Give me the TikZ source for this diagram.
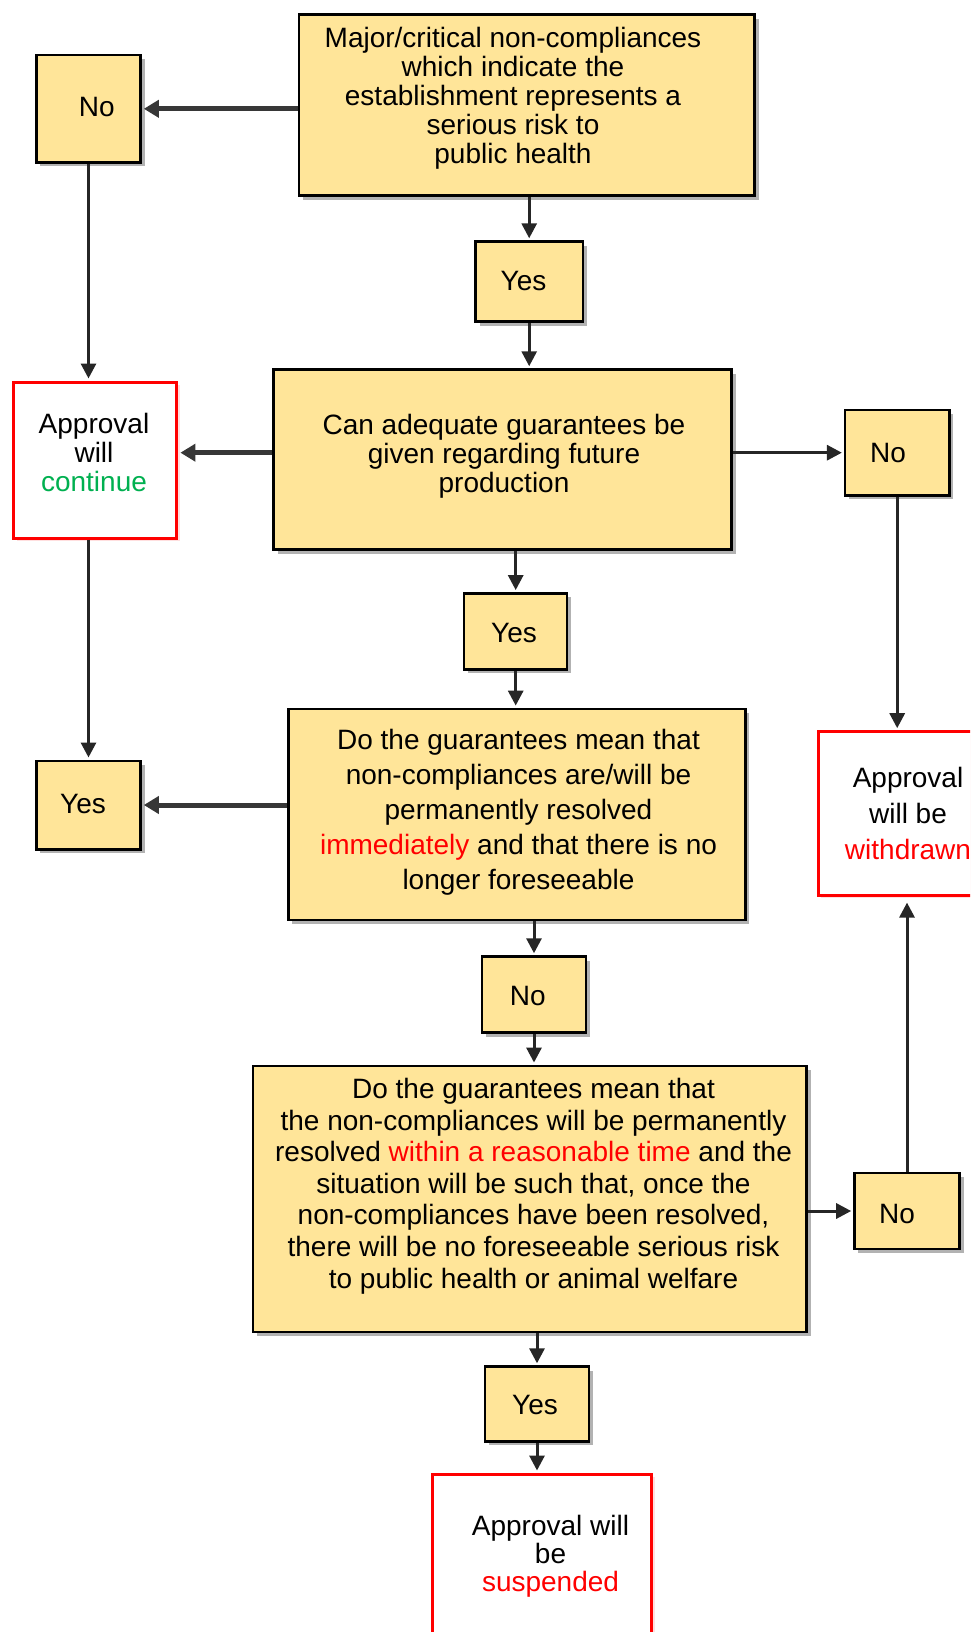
\documentclass[tikz,border=0pt]{standalone}
\usepackage{fontspec}
\setmainfont{Liberation Sans}
\usetikzlibrary{arrows.meta,shadows}
\definecolor{boxfill}{RGB}{255,229,153}
\definecolor{okgreen}{RGB}{0,176,80}
\definecolor{linegray}{RGB}{55,55,55}
\begin{document}
\begin{tikzpicture}[x=1pt,y=-1pt,
  ybox/.style={draw=black, line width=2.5pt, fill=boxfill, inner sep=0pt,
    drop shadow={shadow xshift=4pt,shadow yshift=-4pt,opacity=.3,fill=black}},
  rbox/.style={draw=red, line width=3pt, fill=white, inner sep=0pt,
    drop shadow={shadow xshift=3pt,shadow yshift=-3pt,opacity=.25,fill=red!50}},
  txt/.style={align=center, inner sep=0pt, font=\fontsize{28}{29}\selectfont},
  conn/.style={draw=black!85, line width=3pt, -{Triangle[length=15pt,width=15pt]}, shorten >=2pt},
  heavy/.style={draw=linegray, line width=5pt, -{Triangle[length=15pt,width=17pt]}, shorten >=2pt}]
\useasboundingbox (0,0) rectangle (970,1632);
\clip (0,0) rectangle (970,1632);
% boxes
\node[ybox, minimum width=455.9pt, minimum height=181.1pt] (top) at (526.7,105.2) {};
\node[ybox, minimum width=104.1pt, minimum height=107.2pt] (noTL) at (88.5,108.8) {};
\node[ybox, minimum width=107.2pt, minimum height=80.1pt] (yes1) at (529.2,281.6) {};
\node[ybox, minimum width=458pt, minimum height=180pt] (can) at (502.7,459.5) {};
\node[rbox, minimum width=163.4pt, minimum height=156pt] (cont) at (95.2,460) {};
\node[ybox, minimum width=104.1pt, minimum height=85.4pt] (noR) at (897.2,452.7) {};
\node[ybox, minimum width=103pt, minimum height=75.9pt] (yes2) at (515.7,631.3) {};
\node[ybox, minimum width=456.9pt, minimum height=211.3pt] (do) at (516.8,814.5) {};
\node[ybox, minimum width=104.1pt, minimum height=88.5pt] (yesL) at (88.5,805) {};
\node[rbox, minimum width=182pt, minimum height=163.4pt] (wd) at (909,813.4) {};
\node[ybox, minimum width=104.1pt, minimum height=76pt] (no3) at (534,994.5) {};
\node[ybox, minimum width=553.7pt, minimum height=266.4pt] (big) at (529.8,1199) {};
\node[ybox, minimum width=105.1pt, minimum height=76pt] (noRB) at (907,1211) {};
\node[ybox, minimum width=104.1pt, minimum height=74.9pt] (yesB) at (537,1404) {};
\node[rbox, minimum width=219.5pt, minimum height=206pt] (susp) at (541.8,1577) {};
% texts
\node[txt] (t1) at (513,98) {Major/critical non-compliances\\which indicate the\\establishment represents a\\serious risk to\\public health};
\node[txt] (tnoTL) at (96.8,107.2) {No};
\node[txt] (tyes1) at (523.5,281) {Yes};
\node[txt] (tcan) at (504,456.5) {Can adequate guarantees be\\given regarding future\\production};
\node[txt] (tcont) at (94,452.5) {Approval\\will\\\textcolor{okgreen}{continue}};
\node[txt] (tnoR) at (888,453) {No};
\node[txt] (tyes2) at (514,633) {Yes};
\node[txt, font=\fontsize{28}{35}\selectfont] (tdo) at (518.5,812) {Do the guarantees mean that\\non-compliances are/will be\\permanently resolved\\\textcolor{red}{immediately} and that there is no\\longer foreseeable};
\node[txt] (tyesL) at (83,803.5) {Yes};
\node[txt, font=\fontsize{28}{36}\selectfont] (twd) at (908,813) {Approval\\will be\\\textcolor{red}{withdrawn}};
\node[txt] (tno3) at (527.7,996) {No};
\node[txt, font=\fontsize{28}{31.6}\selectfont] (tbig) at (533.5,1186) {Do the guarantees mean that\\the non-compliances will be permanently\\resolved \textcolor{red}{within a reasonable time} and the\\situation will be such that, once the\\non-compliances have been resolved,\\there will be no foreseeable serious risk\\to public health or animal welfare};
\node[txt] (tnoRB) at (897,1213.6) {No};
\node[txt] (tyesB) at (535,1405) {Yes};
\node[txt, font=\fontsize{28}{28}\selectfont] (tsusp) at (550.5,1556) {Approval will\\be\\\textcolor{red}{suspended}};
% connectors
\draw[heavy] (top.west |- noTL) -- (noTL.east);
\draw[conn] (top.south -| yes1) -- (yes1.north);
\draw[conn] (yes1.south) -- (can.north -| yes1);
\draw[conn] (noTL.south) -- (cont.north -| noTL);
\draw[heavy] (can.west |- noR) -- (cont.east |- noR);
\draw[conn] (can.east |- noR) -- (noR.west);
\draw[conn] (can.south -| yes2) -- (yes2.north);
\draw[conn] (yes2.south) -- (do.north -| yes2);
\draw[conn] (cont.south -| yesL) -- (yesL.north);
\draw[heavy] (do.west |- yesL) -- (yesL.east);
\draw[conn] (noR.south) -- (wd.north -| noR);
\draw[conn] (do.south -| no3) -- (no3.north);
\draw[conn] (no3.south) -- (big.north -| no3);
\draw[conn] (big.east |- noRB) -- (noRB.west);
\draw[conn, shorten >=6pt] (noRB.north) -- (wd.south -| noRB);
\draw[conn] (big.south -| yesB) -- (yesB.north);
\draw[conn] (yesB.south) -- (susp.north -| yesB);
\end{tikzpicture}
\end{document}
